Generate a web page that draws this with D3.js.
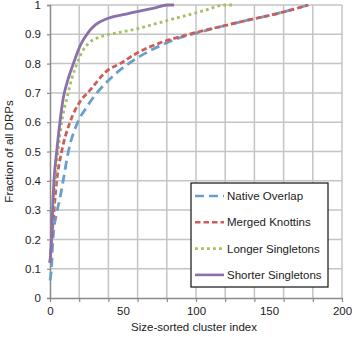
<!DOCTYPE html>
<html>
<head>
<meta charset="utf-8">
<script src="https://cdn.jsdelivr.net/npm/d3@7"></script>
<style>
  body { margin: 0; background: #fff; }
  text { font-family: "Liberation Sans", Arial, sans-serif; }
</style>
</head>
<body>
<div class="container"></div>
<script>
const WIDTH = 352;
const HEIGHT = 337;

// cluster index -> cumulative fraction of DRPs
var nativeX = [0, 1, 2, 4.6, 6.8, 9, 12.6, 19, 25, 29, 33, 46, 60, 75, 90, 103, 120, 137, 155, 177];
var nativeY = [0.06, 0.1, 0.2, 0.29, 0.34, 0.4, 0.5, 0.6, 0.65, 0.68, 0.705, 0.77, 0.82, 0.86, 0.89, 0.908, 0.93, 0.95, 0.97, 1.0];
var mergedX = [0, 2, 4.6, 8, 13.7, 20.5, 27, 39, 48, 60, 75, 90, 103, 120, 137, 155, 177];
var mergedY = [0.12, 0.25, 0.4, 0.5, 0.6, 0.67, 0.707, 0.775, 0.8, 0.837, 0.87, 0.893, 0.91, 0.93, 0.95, 0.97, 1.0];
var longerX = [0, 1, 2, 3.5, 5.5, 8, 12, 15, 18.5, 22, 27, 33, 39, 48, 59, 75, 90, 105, 120, 125];
var longerY = [0.12, 0.2, 0.3, 0.4, 0.5, 0.6, 0.69, 0.75, 0.8, 0.84, 0.872, 0.889, 0.898, 0.907, 0.918, 0.94, 0.96, 0.98, 1.0, 1.0];
var shorterX = [0, 1, 2, 2.7, 4.6, 6.8, 9, 12, 16, 21, 26, 31, 39, 50, 62, 72, 80, 85];
var shorterY = [0.12, 0.2, 0.33, 0.4, 0.5, 0.6, 0.68, 0.74, 0.8, 0.865, 0.905, 0.932, 0.953, 0.967, 0.98, 0.99, 1.0, 1.0];

var seriesNames = ['Native Overlap', 'Merged Knottins', 'Longer Singletons', 'Shorter Singletons'];
var xTicks = [0, 50, 100, 150, 200];
var yTicks = [0, 0.1, 0.2, 0.3, 0.4, 0.5, 0.6, 0.7, 0.8, 0.9, 1];

var series = [
  { name: seriesNames[0], xs: nativeX, ys: nativeY, color: '#6a9fcc', dash: '9,5' },
  { name: seriesNames[1], xs: mergedX, ys: mergedY, color: '#cc5e58', dash: '5.5,3' },
  { name: seriesNames[2], xs: longerX, ys: longerY, color: '#a3c063', dash: '2.8,3.2' },
  { name: seriesNames[3], xs: shorterX, ys: shorterY, color: '#8b70aa', dash: null }
];

var svg = d3.select('.container').append('svg')
  .attr('width', WIDTH)
  .attr('height', HEIGHT);

var x = d3.scaleLinear().domain([0, 200]).range([50, 342]);
var y = d3.scaleLinear().domain([0, 1]).range([298, 5]);

// gridlines
svg.append('g')
  .selectAll('line')
  .data(d3.range(20, 201, 20))
  .enter().append('line')
  .attr('x1', d => x(d)).attr('x2', d => x(d))
  .attr('y1', y(0)).attr('y2', y(1))
  .attr('stroke', '#c4c4c4').attr('stroke-width', 1.5);

svg.append('g')
  .selectAll('line')
  .data(yTicks.slice(1))
  .enter().append('line')
  .attr('x1', x(0)).attr('x2', x(200))
  .attr('y1', d => y(d)).attr('y2', d => y(d))
  .attr('stroke', '#c4c4c4').attr('stroke-width', 1.5);

// axes
var yAxis = svg.append('g')
  .attr('transform', 'translate(' + x(0) + ',0)')
  .call(d3.axisLeft(y).tickValues(yTicks).tickSize(3).tickPadding(6)
    .tickFormat(d3.format('~g')));
var xAxis = svg.append('g')
  .attr('transform', 'translate(0,' + y(0) + ')')
  .call(d3.axisBottom(x).tickValues(xTicks).tickSize(0).tickPadding(9));

svg.append('g')
  .attr('transform', 'translate(0,' + y(0) + ')')
  .call(d3.axisBottom(x).tickValues(d3.range(0, 201, 20)).tickSize(4).tickFormat(''))
  .call(g => g.select('.domain').remove());

[yAxis, xAxis].forEach(function (g) {
  g.select('.domain').attr('stroke', '#8a8a8a').attr('stroke-width', 1.5);
  g.selectAll('text').attr('font-size', 11.5).attr('fill', '#222');
});
svg.selectAll('.tick line').attr('stroke', '#8a8a8a').attr('stroke-width', 1.2);

// curves
var line = d3.line()
  .x(d => x(d[0]))
  .y(d => y(d[1]))
  .curve(d3.curveMonotoneX);

series.forEach(function (s) {
  var pts = s.xs.map((v, i) => [v, s.ys[i]]);
  svg.append('path')
    .attr('d', line(pts))
    .attr('fill', 'none')
    .attr('stroke', s.color)
    .attr('stroke-width', 2.8)
    .attr('stroke-dasharray', s.dash);
});

// axis titles
svg.append('text')
  .attr('transform', 'translate(13,' + y(0.5) + ') rotate(-90)')
  .attr('text-anchor', 'middle')
  .attr('font-size', 11.5)
  .attr('fill', '#222')
  .text('Fraction of all DRPs');

svg.append('text')
  .attr('x', x(100) - 2)
  .attr('y', 331)
  .attr('text-anchor', 'middle')
  .attr('font-size', 11.5)
  .attr('fill', '#222')
  .text('Size-sorted cluster index');

// legend
var legend = svg.append('g').attr('transform', 'translate(191,183)');
legend.append('rect')
  .attr('width', 137).attr('height', 104)
  .attr('fill', '#fff').attr('stroke', '#111').attr('stroke-width', 1.2);

var item = legend.selectAll('.item')
  .data(series)
  .enter().append('g')
  .attr('class', 'item')
  .attr('transform', (d, i) => 'translate(0,' + (13 + i * 26.3) + ')');

item.append('line')
  .attr('x1', 4).attr('x2', 33)
  .attr('stroke', d => d.color)
  .attr('stroke-width', 2.6)
  .attr('stroke-dasharray', d => d.dash);

item.append('text')
  .attr('x', 36).attr('y', 4)
  .attr('font-size', 11.5)
  .attr('fill', '#222')
  .text(d => d.name);
</script>
</body>
</html>
